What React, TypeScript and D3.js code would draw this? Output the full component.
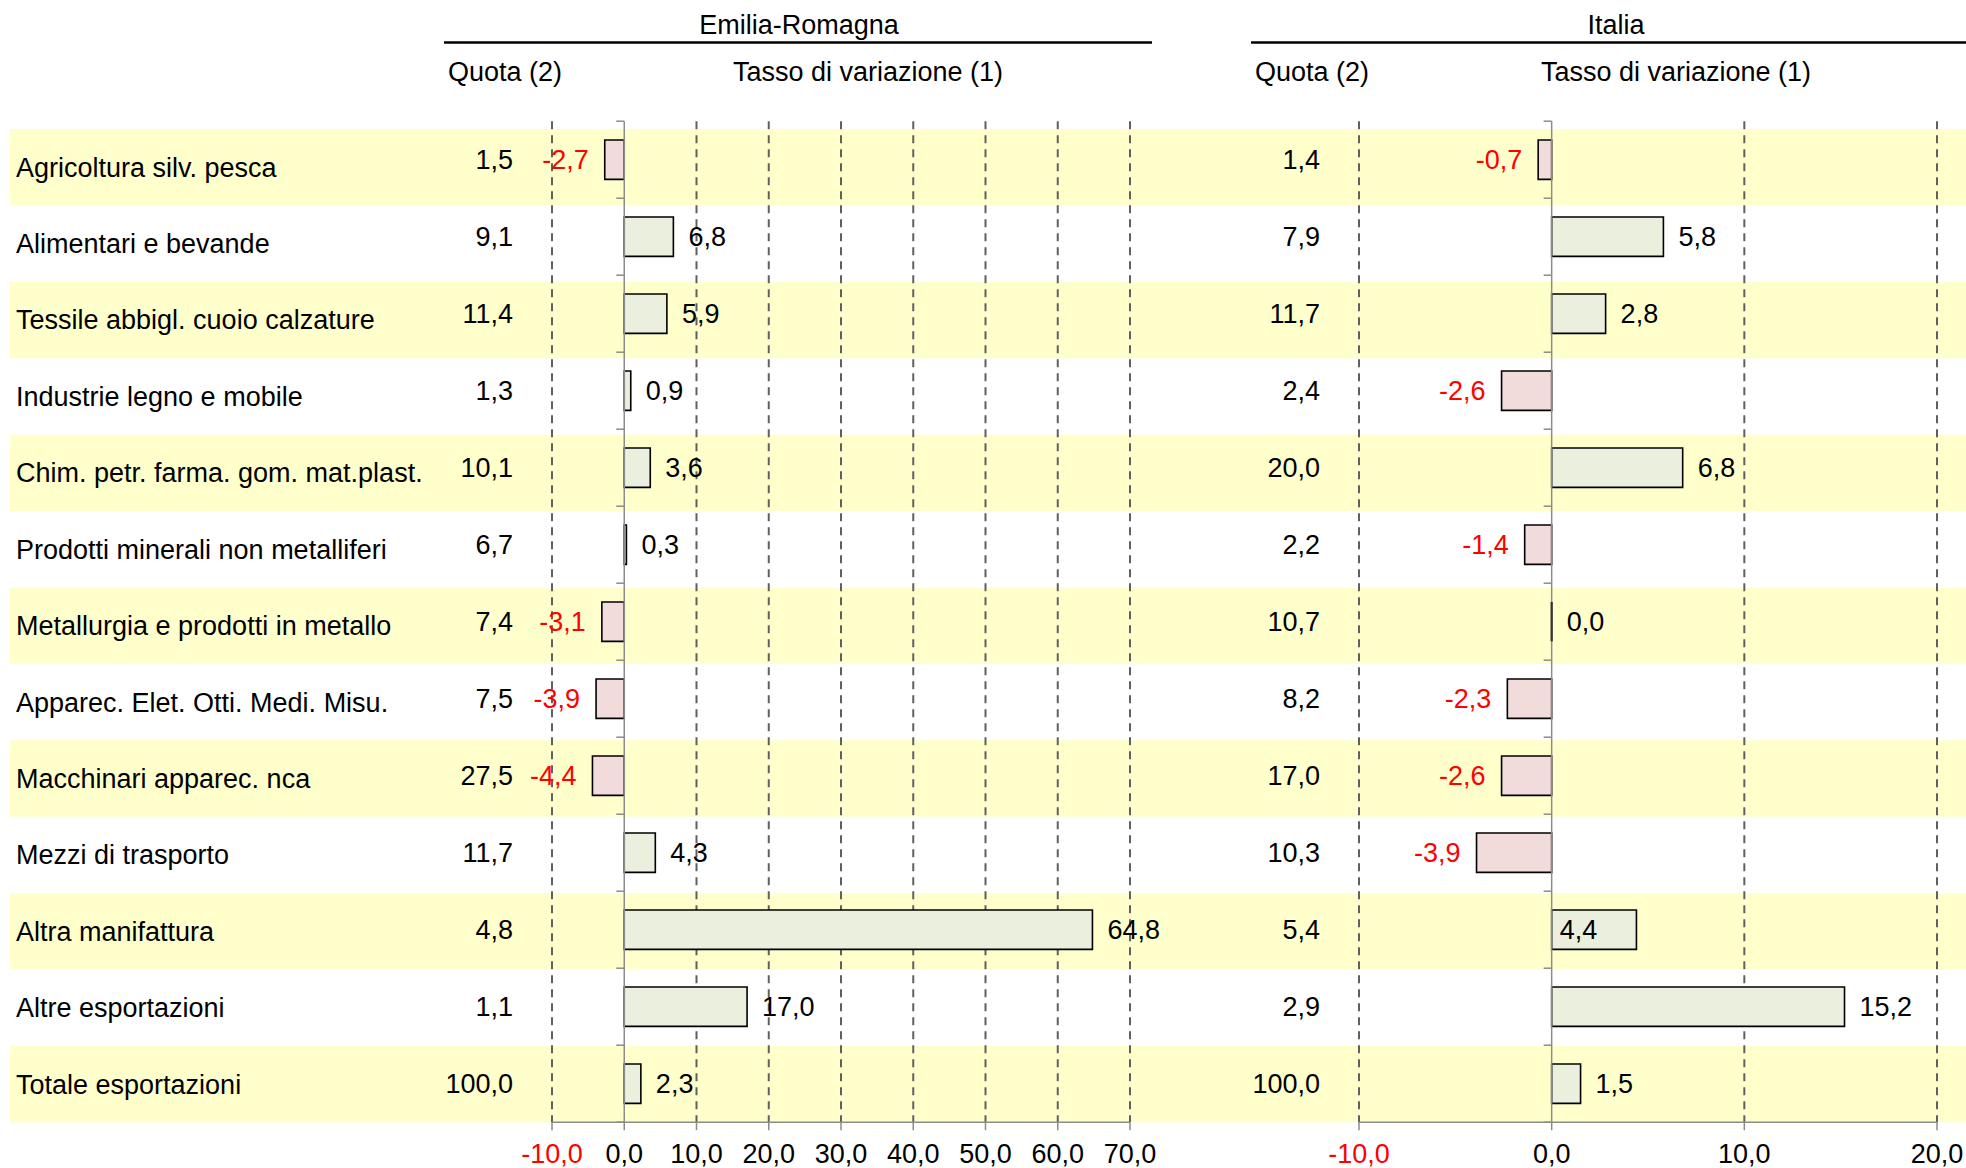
import React from "react";
import * as d3 from "d3";

const categories = [
  "Agricoltura silv. pesca",
  "Alimentari e bevande",
  "Tessile abbigl. cuoio calzature",
  "Industrie legno e mobile",
  "Chim. petr. farma. gom. mat.plast.",
  "Prodotti minerali non metalliferi",
  "Metallurgia e prodotti in metallo",
  "Apparec. Elet. Otti. Medi. Misu.",
  "Macchinari apparec. nca",
  "Mezzi di trasporto",
  "Altra manifattura",
  "Altre esportazioni",
  "Totale esportazioni",
];

const erQuota = [1.5, 9.1, 11.4, 1.3, 10.1, 6.7, 7.4, 7.5, 27.5, 11.7, 4.8, 1.1, 100.0];
const erVar = [-2.7, 6.8, 5.9, 0.9, 3.6, 0.3, -3.1, -3.9, -4.4, 4.3, 64.8, 17.0, 2.3];
const itQuota = [1.4, 7.9, 11.7, 2.4, 20.0, 2.2, 10.7, 8.2, 17.0, 10.3, 5.4, 2.9, 100.0];
const itVar = [-0.7, 5.8, 2.8, -2.6, 6.8, -1.4, 0.0, -2.3, -2.6, -3.9, 4.4, 15.2, 1.5];

const erTicks = [-10, 0, 10, 20, 30, 40, 50, 60, 70];
const itTicks = [-10, 0, 10, 20];

const panelTitles = ["Emilia-Romagna", "Italia"];
const quotaTitle = "Quota (2)";
const varTitle = "Tasso di variazione (1)";

// Italia labels drawn inside the bar in the reference
const insideLabelsIt = ["Altra manifattura"];

const W = 1966;
const H = 1168;
const FONT = "'Liberation Sans', Arial, Helvetica, sans-serif";
const FS = 27;
const BAND = "#FFFFCC";
const POS_FILL = "#EBF0DE";
const NEG_FILL = "#F2DCDB";
const RED = "#FF0000";

const loc = d3.formatLocale({
  decimal: ",",
  thousands: ".",
  grouping: [3],
  currency: ["", "€"],
  minus: "-",
});
const fmt = loc.format(".1f");

const bandY = d3.scaleBand<string>().domain(categories).range([129, 1122.3]).padding(0);
const plotY = d3.scaleBand<string>().domain(categories).range([121.2, 1122.2]).padding(0);

type Panel = {
  title: string;
  x: d3.ScaleLinear<number, number>;
  ticks: number[];
  quota: number[];
  vals: number[];
  quotaRight: number;
  lineX: [number, number];
  titleX: number;
  quotaTitleX: number;
  varTitleX: number;
  inside: string[];
};

const panels: Panel[] = [
  {
    title: panelTitles[0],
    x: d3.scaleLinear().domain([-10, 70]).range([552, 1130]),
    ticks: erTicks,
    quota: erQuota,
    vals: erVar,
    quotaRight: 513,
    lineX: [444, 1152],
    titleX: 799,
    quotaTitleX: 448,
    varTitleX: 868,
    inside: [],
  },
  {
    title: panelTitles[1],
    x: d3.scaleLinear().domain([-10, 20]).range([1359, 1937]),
    ticks: itTicks,
    quota: itQuota,
    vals: itVar,
    quotaRight: 1320,
    lineX: [1251, 1966],
    titleX: 1616,
    quotaTitleX: 1255,
    varTitleX: 1676,
    inside: insideLabelsIt,
  },
];

function PanelView({ p }: { p: Panel }) {
  const top = plotY.range()[0];
  const bottom = plotY.range()[1];
  const x0 = p.x(0);
  const step = plotY.step();
  const barH = step * 0.51;
  const boundaries = d3.range(categories.length + 1).map((i) => top + i * step);
  return (
    <g>
      {/* header */}
      <text x={p.titleX} y={25} dy="0.35em" textAnchor="middle" fontSize={FS}>
        {p.title}
      </text>
      <line x1={p.lineX[0]} x2={p.lineX[1]} y1={42.5} y2={42.5} stroke="#000" strokeWidth={2.5} />
      <text x={p.quotaTitleX} y={72} dy="0.35em" fontSize={FS}>
        {quotaTitle}
      </text>
      <text x={p.varTitleX} y={72} dy="0.35em" textAnchor="middle" fontSize={FS}>
        {varTitle}
      </text>

      {/* gridlines */}
      {p.ticks
        .filter((t) => t !== 0)
        .map((t) => (
          <line
            key={"g" + t}
            x1={p.x(t)}
            x2={p.x(t)}
            y1={top}
            y2={bottom}
            stroke="#606060"
            strokeWidth={2}
            strokeDasharray="8,6"
          />
        ))}

      {/* bottom axis */}
      <line x1={p.x(p.ticks[0])} x2={p.x(p.ticks[p.ticks.length - 1])} y1={bottom} y2={bottom} stroke="#8c8c8c" strokeWidth={1.5} />
      {p.ticks.map((t) => (
        <g key={"t" + t}>
          <line x1={p.x(t)} x2={p.x(t)} y1={bottom} y2={bottom + 8} stroke="#8c8c8c" strokeWidth={1.5} />
          <text x={p.x(t)} y={1154} dy="0.35em" textAnchor="middle" fontSize={FS} fill={t < 0 ? RED : "#000"}>
            {fmt(t)}
          </text>
        </g>
      ))}

      {/* bars */}
      {categories.map((c, i) => {
        const v = p.vals[i];
        const cy = (plotY(c) as number) + step / 2;
        const xa = p.x(Math.min(0, v));
        const xb = p.x(Math.max(0, v));
        const y0 = cy - barH / 2;
        const d = `M${xa},${y0}H${xb}V${y0 + barH}H${xa}Z`;
        return (
          <path
            key={"b" + c}
            d={d}
            fill={v < 0 ? NEG_FILL : POS_FILL}
            stroke="#000"
            strokeWidth={1.6}
          />
        );
      })}

      {/* zero axis */}
      <line x1={x0} x2={x0} y1={top} y2={bottom} stroke="#8c8c8c" strokeWidth={1.5} />
      {boundaries.map((b, i) => (
        <line key={"zt" + i} x1={x0 - 8} x2={x0} y1={b} y2={b} stroke="#8c8c8c" strokeWidth={1.5} />
      ))}
      {/* zero-valued bars drawn as a dark stroke over the axis */}
      {categories.map((c, i) => {
        const v = p.vals[i];
        if (v !== 0) return null;
        const cy = (plotY(c) as number) + step / 2;
        return (
          <line key={"zb" + c} x1={x0} x2={x0} y1={cy - barH / 2} y2={cy + barH / 2} stroke="#333" strokeWidth={2} />
        );
      })}

      {/* value labels */}
      {categories.map((c, i) => {
        const v = p.vals[i];
        const cy = (plotY(c) as number) + step / 2;
        const inside = p.inside.includes(c);
        let lx: number;
        let anchor: "start" | "end";
        if (inside) {
          lx = x0 + 8;
          anchor = "start";
        } else if (v < 0) {
          lx = p.x(v) - 16;
          anchor = "end";
        } else {
          lx = p.x(v) + 15;
          anchor = "start";
        }
        return (
          <text key={"v" + c} x={lx} y={cy} dy="0.35em" textAnchor={anchor} fontSize={FS} fill={v < 0 ? RED : "#000"}>
            {fmt(v)}
          </text>
        );
      })}

      {/* quota labels */}
      {categories.map((c, i) => {
        const cy = (plotY(c) as number) + step / 2;
        return (
          <text key={"q" + c} x={p.quotaRight} y={cy} dy="0.35em" textAnchor="end" fontSize={FS}>
            {fmt(p.quota[i])}
          </text>
        );
      })}
    </g>
  );
}

export default function App() {
  return (
    <div style={{ position: "absolute", left: 0, top: 0, width: W, height: H, background: "#fff" }}>
      <svg width={W} height={H} style={{ display: "block", fontFamily: FONT }}>
        <rect x={0} y={0} width={W} height={H} fill="#fff" />
        {/* row bands */}
        {categories.map((c, i) =>
          i % 2 === 0 ? (
            <rect key={"band" + c} x={10} y={bandY(c)} width={W - 10} height={bandY.bandwidth()} fill={BAND} />
          ) : null
        )}
        {/* category labels */}
        {categories.map((c) => (
          <text key={"cl" + c} x={16} y={(bandY(c) as number) + bandY.bandwidth() / 2} dy="0.35em" fontSize={FS}>
            {c}
          </text>
        ))}
        {panels.map((p) => (
          <PanelView key={p.title} p={p} />
        ))}
      </svg>
    </div>
  );
}
